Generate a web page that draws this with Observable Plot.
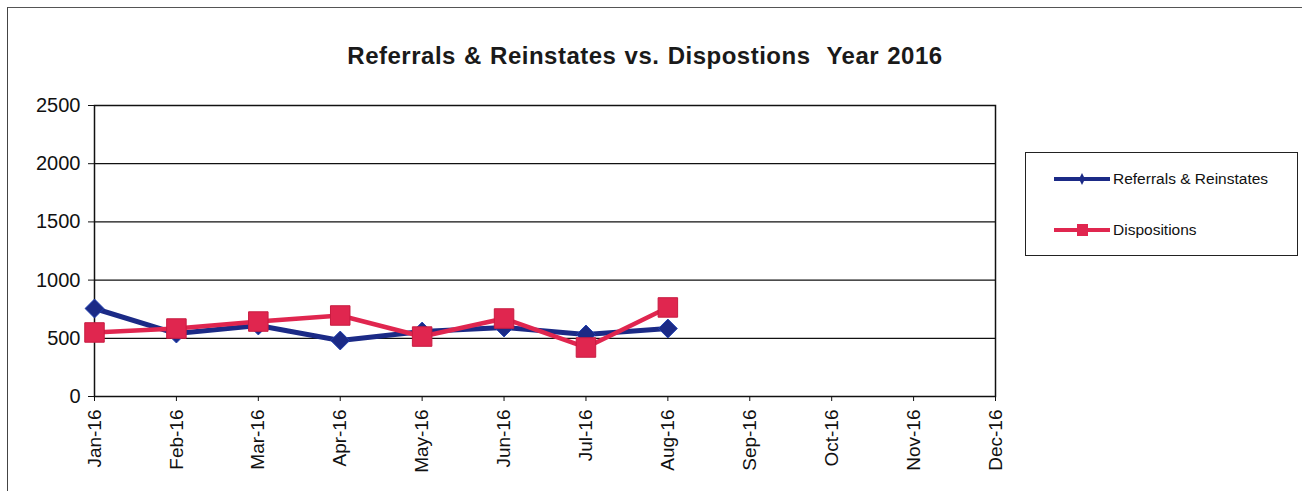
<!DOCTYPE html>
<html>
<head>
<meta charset="utf-8">
<script src="https://cdn.jsdelivr.net/npm/d3@7"></script>
<script src="https://cdn.jsdelivr.net/npm/@observablehq/plot@0.6"></script>
<style>
  html, body { margin: 0; padding: 0; background: #fff; }
  #wrap { position: relative; width: 1302px; height: 492px; overflow: hidden; font-family: "Liberation Sans", Arial, sans-serif; }
  #outer { position: absolute; left: 7px; top: 7px; width: 1295px; height: 484px; border-left: 1.5px solid #444; border-top: 1.5px solid #555; box-sizing: border-box; }
  #title { position: absolute; left: 0; width: 1290px; top: 42px; text-align: center; font-weight: bold; font-size: 24px; color: #1a1a1a; letter-spacing: 0.5px; word-spacing: 1px; }
  #chart { position: absolute; left: 0; top: 0; }
  #legend { position: absolute; left: 1025px; top: 152px; width: 273px; height: 104px; border: 1.5px solid #222; box-sizing: border-box; font-size: 15.5px; color: #111; }
  .item { position: absolute; left: 28px; display: flex; align-items: center; }
  .item svg { margin-right: 3px; }
</style>
</head>
<body>
<div id="wrap">
  <div id="outer"></div>
  <div id="chart"></div>
  <div id="title">Referrals &amp; Reinstates vs. Dispostions&nbsp; Year 2016</div>
  <div id="legend"></div>
</div>
<script>
const months = ["Jan-16","Feb-16","Mar-16","Apr-16","May-16","Jun-16","Jul-16","Aug-16","Sep-16","Oct-16","Nov-16","Dec-16"];
const referrals = [756, 541, 610, 481, 558, 593, 533, 584];
const dispositions = [550, 584, 644, 696, 515, 670, 421, 765];
const yTicks = [0, 500, 1000, 1500, 2000, 2500];
const seriesNames = ["Referrals & Reinstates", "Dispositions"];
const blue = "#1b2a86";
const red = "#e0264f";

const refData = referrals.map((v, i) => ({month: months[i], value: v}));
const disData = dispositions.map((v, i) => ({month: months[i], value: v}));

const plot = Plot.plot({
  width: 1302,
  height: 492,
  marginLeft: 94,
  marginRight: 307,
  marginTop: 105,
  marginBottom: 96,
  style: {fontFamily: "'Liberation Sans', Arial, sans-serif", background: "transparent", color: "#111"},
  x: {type: "point", domain: months, padding: 0, round: false},
  y: {domain: [0, 2500], ticks: yTicks},
  marks: [
    Plot.gridY(yTicks, {stroke: "#111", strokeOpacity: 1, strokeWidth: 1.2}),
    Plot.frame({stroke: "#111", strokeWidth: 1.5}),
    Plot.axisY(yTicks, {tickSize: 6, tickPadding: 8, fontSize: 20, label: null, stroke: "#111", tickFormat: d => String(d)}),
    Plot.axisX(months, {tickSize: 5, tickPadding: 8, tickRotate: -90, fontSize: 19, label: null, stroke: "#111"}),
    Plot.line(refData, {x: "month", y: "value", stroke: blue, strokeWidth: 5}),
    Plot.line(disData, {x: "month", y: "value", stroke: red, strokeWidth: 4.5}),
    Plot.dot(refData, {x: "month", y: "value", symbol: "diamond2", r: 8.5, fill: blue, stroke: "#2040b0", strokeWidth: 1}),
    Plot.dot(disData, {x: "month", y: "value", symbol: "square", r: 11, fill: red, stroke: "#c81c40", strokeWidth: 1})
  ]
});
document.getElementById("chart").appendChild(plot);

// legend
const legend = document.getElementById("legend");
const swatch = (color, shape) => {
  const shapeSvg = shape === "diamond"
    ? `<path d="M28,4 L31,10 L28,16 L25,10 Z" fill="${color}"/>`
    : `<rect x="23" y="4" width="11" height="12" fill="${color}"/>`;
  return `<svg width="56" height="20"><line x1="0" y1="10" x2="56" y2="10" stroke="${color}" stroke-width="4"/>${shapeSvg}</svg>`;
};
legend.innerHTML =
  `<div class="item" style="top:16px">${swatch(blue, "diamond")}<span>${seriesNames[0]}</span></div>` +
  `<div class="item" style="top:67px">${swatch(red, "square")}<span>${seriesNames[1]}</span></div>`;
</script>
</body>
</html>
